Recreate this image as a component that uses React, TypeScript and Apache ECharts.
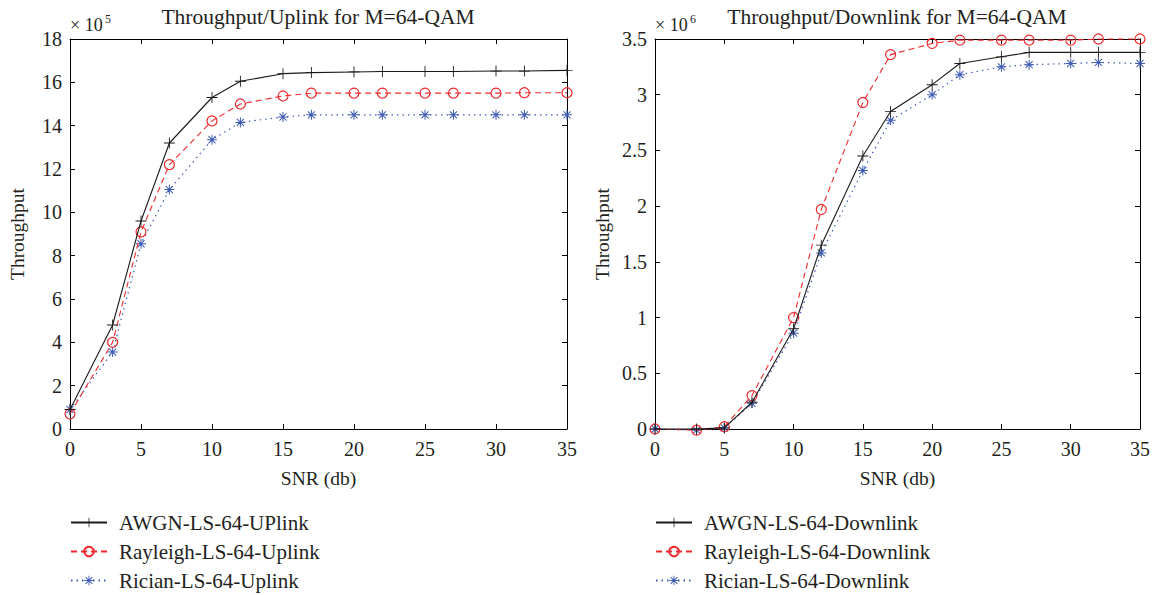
import React, { useEffect, useRef } from "react";
import * as echarts from "echarts";

// SNR (db) sample points
const snr = [0, 3, 5, 7, 10, 12, 15, 17, 20, 22, 25, 27, 30, 32, 35];

// Uplink throughput (x 10^5)
const upAwgn = [0.9, 4.8, 9.6, 13.2, 15.3, 16.05, 16.4, 16.45, 16.48, 16.5, 16.5, 16.5, 16.52, 16.52, 16.55];
const upRayleigh = [0.7, 4.0, 9.1, 12.2, 14.22, 15.0, 15.37, 15.5, 15.5, 15.5, 15.5, 15.5, 15.5, 15.52, 15.52];
const upRician = [0.9, 3.55, 8.55, 11.05, 13.35, 14.15, 14.4, 14.5, 14.5, 14.5, 14.5, 14.5, 14.5, 14.5, 14.5];

// Downlink throughput (x 10^6)
const dnAwgn = [0, 0, 0.01, 0.24, 0.9, 1.65, 2.45, 2.85, 3.09, 3.28, 3.34, 3.38, 3.38, 3.38, 3.38];
const dnRayleigh = [0, -0.01, 0.02, 0.3, 1.0, 1.97, 2.93, 3.36, 3.46, 3.49, 3.49, 3.49, 3.49, 3.5, 3.5];
const dnRician = [0, -0.01, 0.01, 0.23, 0.86, 1.58, 2.32, 2.77, 3.0, 3.18, 3.25, 3.27, 3.28, 3.29, 3.28];

const upNames = ["AWGN-LS-64-UPlink", "Rayleigh-LS-64-Uplink", "Rician-LS-64-Uplink"];
const dnNames = ["AWGN-LS-64-Downlink", "Rayleigh-LS-64-Downlink", "Rician-LS-64-Downlink"];

const FONT = "'Liberation Serif', 'Times New Roman', serif";
const TXT = "#231f20";
const BLACK = "#1a1a1a";
const RED = "#ee2a2f";
const BLUE = "#3f5cb4";

function barPath(theta: number, w: number): string {
  const c = Math.cos(theta), s = Math.sin(theta);
  const nx = -s, ny = c;
  const pts = [
    [c + w * nx, s + w * ny],
    [c - w * nx, s - w * ny],
    [-c - w * nx, -s - w * ny],
    [-c + w * nx, -s + w * ny],
  ];
  return "M" + pts.map((p) => p[0].toFixed(3) + "," + p[1].toFixed(3)).join("L") + "Z";
}
const PLUS = "path://" + barPath(0, 0.08) + barPath(Math.PI / 2, 0.08);
const STAR =
  "path://" +
  [0, Math.PI / 4, Math.PI / 2, (3 * Math.PI) / 4].map((a) => barPath(a, 0.1)).join("");

function pairs(ys: number[]) {
  return snr.map((x, i) => [x, ys[i]]);
}

function xAxes(grid: number) {
  const base = {
    type: "value" as const,
    gridIndex: grid,
    min: 0,
    max: 35,
    interval: 5,
    splitLine: { show: false },
    axisLine: { show: true, onZero: false, lineStyle: { color: "#000", width: 1 } },
    axisTick: { show: true, inside: true, length: 5, lineStyle: { color: "#000" } },
  };
  return [
    {
      ...base,
      position: "bottom",
      name: "SNR (db)",
      nameLocation: "middle",
      nameGap: 39,
      nameTextStyle: { fontFamily: FONT, fontSize: 19.5, color: TXT },
      axisLabel: { fontFamily: FONT, fontSize: 20, color: TXT, margin: 10 },
    },
    { ...base, position: "top", axisLabel: { show: false } },
  ];
}

function yAxes(grid: number, max: number, interval: number) {
  const base = {
    type: "value" as const,
    gridIndex: grid,
    min: 0,
    max,
    interval,
    splitLine: { show: false },
    axisLine: { show: true, onZero: false, lineStyle: { color: "#000", width: 1 } },
    axisTick: { show: true, inside: true, length: 5, lineStyle: { color: "#000" } },
  };
  return [
    {
      ...base,
      position: "left",
      name: "Throughput",
      nameLocation: "middle",
      nameGap: 43,
      nameTextStyle: { fontFamily: FONT, fontSize: 19.5, color: TXT },
      axisLabel: { fontFamily: FONT, fontSize: 20, color: TXT, margin: 8 },
    },
    { ...base, position: "right", axisLabel: { show: false } },
  ];
}

function seriesSet(names: string[], data: number[][], xi: number, yi: number) {
  return [
    {
      name: names[0],
      type: "line",
      xAxisIndex: xi,
      yAxisIndex: yi,
      data: pairs(data[0]),
      symbol: PLUS,
      symbolSize: 11,
      clip: false,
      lineStyle: { color: BLACK, width: 1.1, type: "solid" },
      itemStyle: { color: BLACK },
      z: 4,
    },
    {
      name: names[1],
      type: "line",
      xAxisIndex: xi,
      yAxisIndex: yi,
      data: pairs(data[1]),
      symbol: "circle",
      symbolSize: 10,
      clip: false,
      lineStyle: { color: RED, width: 1.1, type: [6, 4] },
      itemStyle: { color: "rgba(0,0,0,0)", borderColor: RED, borderWidth: 1.2 },
      z: 3,
    },
    {
      name: names[2],
      type: "line",
      xAxisIndex: xi,
      yAxisIndex: yi,
      data: pairs(data[2]),
      symbol: STAR,
      symbolSize: 10,
      clip: false,
      lineStyle: { color: BLUE, width: 1.2, type: [1.5, 4] },
      itemStyle: { color: BLUE },
      z: 2,
    },
  ];
}

function legend(names: string[], left: number) {
  return {
    data: names,
    orient: "vertical",
    left,
    top: 512,
    padding: 0,
    itemWidth: 36,
    itemHeight: 12,
    itemGap: 8,
    textStyle: { fontFamily: FONT, fontSize: 21, color: TXT, padding: [0, 0, 0, 7] },
  };
}

export default function App() {
  const ref = useRef<HTMLDivElement>(null);
  useEffect(() => {
    if (!ref.current) return;
    const chart = echarts.init(ref.current, undefined, { renderer: "svg" });
    chart.setOption({
      animation: false,
      backgroundColor: "#fff",
      grid: [
        { left: 70, top: 39, width: 497, height: 390 },
        { left: 655, top: 39, width: 485, height: 390 },
      ],
      xAxis: [...xAxes(0), ...xAxes(1)],
      yAxis: [...yAxes(0, 18, 2), ...yAxes(1, 3.5, 0.5)],
      legend: [legend(upNames, 70), legend(dnNames, 655)],
      series: [
        ...seriesSet(upNames, [upAwgn, upRayleigh, upRician], 0, 0),
        ...seriesSet(dnNames, [dnAwgn, dnRayleigh, dnRician], 2, 2),
      ],
      graphic: [
        { type: "text", x: 318, y: 17, style: { text: "Throughput/Uplink for M=64-QAM", font: `21.5px ${FONT}`, fill: TXT, align: "center", verticalAlign: "middle" } },
        { type: "text", x: 897, y: 17, style: { text: "Throughput/Downlink for M=64-QAM", font: `21.5px ${FONT}`, fill: TXT, align: "center", verticalAlign: "middle" } },
        { type: "text", x: 70, y: 25, style: { text: "× 10", font: `18px ${FONT}`, fill: TXT, align: "left", verticalAlign: "middle" } },
        { type: "text", x: 105, y: 19, style: { text: "5", font: `12px ${FONT}`, fill: TXT, align: "left", verticalAlign: "middle" } },
        { type: "text", x: 655, y: 25, style: { text: "× 10", font: `18px ${FONT}`, fill: TXT, align: "left", verticalAlign: "middle" } },
        { type: "text", x: 690, y: 19, style: { text: "6", font: `12px ${FONT}`, fill: TXT, align: "left", verticalAlign: "middle" } },
      ],
    });
    return () => chart.dispose();
  }, []);
  return <div ref={ref} style={{ position: "fixed", left: 0, top: 0, width: 1156, height: 595 }} />;
}
